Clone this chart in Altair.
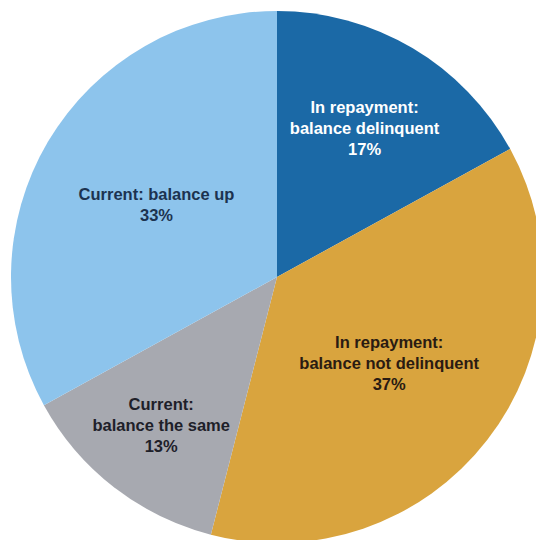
import altair as alt
import pandas as pd

categories = [
    "In repayment: balance delinquent",
    "In repayment: balance not delinquent",
    "Current: balance the same",
    "Current: balance up",
]
labels = [
    "In repayment:\nbalance delinquent\n17%",
    "In repayment:\nbalance not delinquent\n37%",
    "Current:\nbalance the same\n13%",
    "Current: balance up\n33%",
]
values = [17, 37, 13, 33]
slice_colors = ["#1b69a6", "#d9a43e", "#a7a9b0", "#8dc4ec"]
text_colors = ["#ffffff", "#2a1b12", "#1e2029", "#1c3350"]
label_radius = [172, 142, 189, 140]

CX, CY, R = 269, 269, 266
LINE_H = 21

df = pd.DataFrame({
    "category": categories,
    "label": labels,
    "value": values,
    "order": list(range(len(values))),
    "fill": slice_colors,
    "tcolor": text_colors,
    "lr": label_radius,
})

pie = alt.Chart(df).mark_arc(radius=R, stroke=None).encode(
    theta=alt.Theta("value:Q", stack=True),
    order=alt.Order("order:Q"),
    x=alt.value(CX),
    y=alt.value(CY),
    color=alt.Color("fill:N", scale=None, legend=None),
)

text = alt.Chart(df).transform_window(
    cum="sum(value)", sort=[alt.SortField("order")]
).transform_joinaggregate(
    total="sum(value)"
).transform_calculate(
    mid="(datum.cum - datum.value / 2) / datum.total * 2 * PI",
    nl="length(split(datum.label, '\\n'))",
).transform_calculate(
    px=f"{CX} + datum.lr * sin(datum.mid)",
    py=f"{CY} - datum.lr * cos(datum.mid) - (datum.nl - 1) * {LINE_H} / 2",
).mark_text(
    font="Liberation Sans",
    fontSize=16.5,
    fontWeight="bold",
    lineBreak="\n",
    lineHeight=LINE_H,
    align="center",
    baseline="middle",
).encode(
    x=alt.X("px:Q", scale=None),
    y=alt.Y("py:Q", scale=None),
    text="label:N",
    color=alt.Color("tcolor:N", scale=None, legend=None),
)

chart = alt.layer(pie, text).properties(
    width=528,
    height=532,
    autosize=alt.AutoSizeParams(type="none"),
    padding=0,
).configure_view(stroke=None)

chart.save("out.html", embed_options={"renderer": "svg", "actions": False})
